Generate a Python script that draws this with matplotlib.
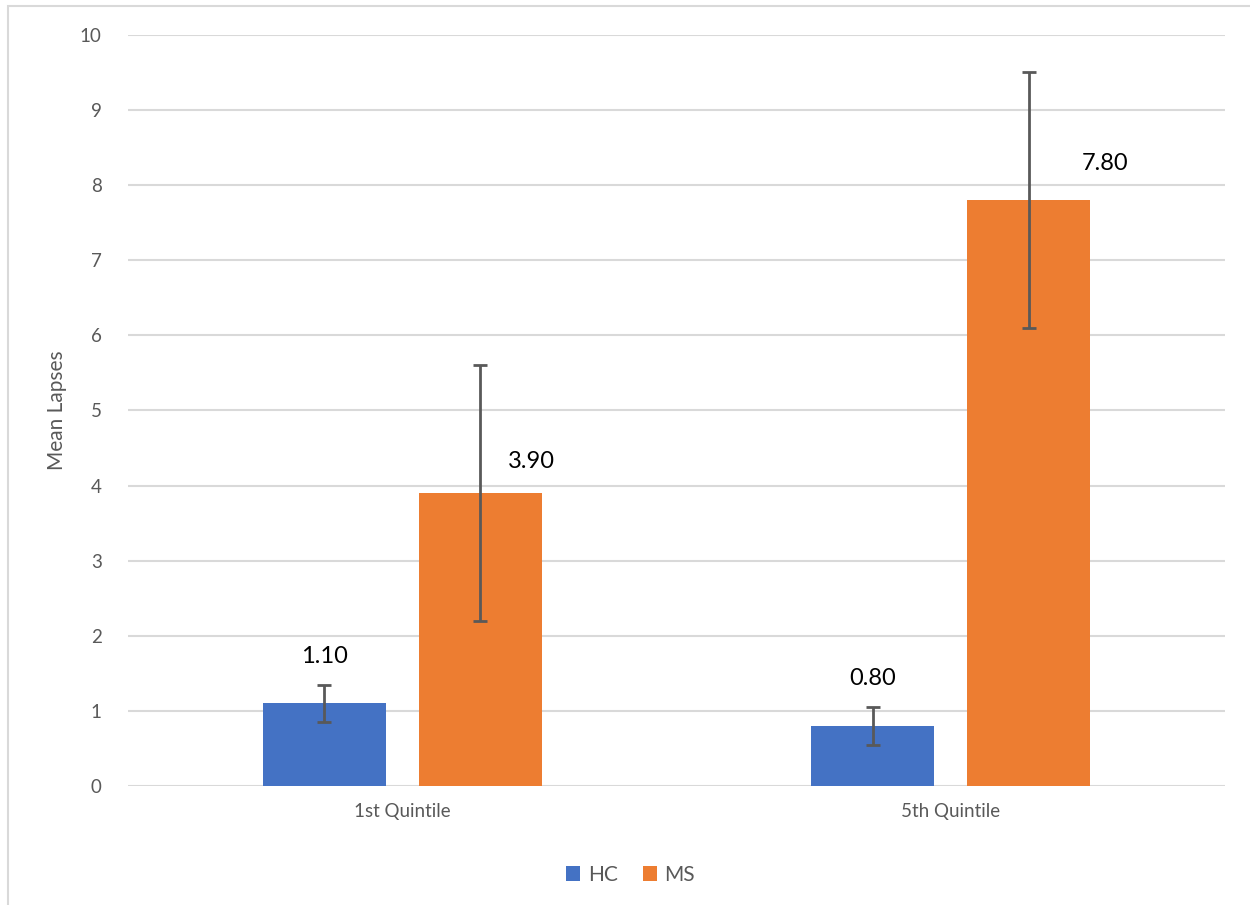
import numpy as np
import matplotlib.pyplot as plt
from matplotlib.patches import Rectangle

categories = ['1st Quintile', '5th Quintile']
hcMeans = [1.10, 0.80]
msMeans = [3.90, 7.80]
hcErr = [0.25, 0.25]
msErr = [1.70, 1.70]

plt.rcParams['font.family'] = ['Lato', 'DejaVu Sans']

fig = plt.figure(figsize=(12.5, 9.05), dpi=100)
ax = fig.add_axes([0.1024, 0.1315, 0.8776, 0.83])

x = np.arange(len(categories))
offset = 0.142
width = 0.224
blue = '#4472C4'
orange = '#ED7D31'
errCol = '#595959'

ax.bar(x - offset, hcMeans, width, color=blue, label='HC', zorder=2)
ax.bar(x + offset, msMeans, width, color=orange, label='MS', zorder=2)
ax.errorbar(x - offset, hcMeans, yerr=hcErr, fmt='none', ecolor=errCol,
            elinewidth=2, capsize=5, capthick=2, zorder=3)
ax.errorbar(x + offset, msMeans, yerr=msErr, fmt='none', ecolor=errCol,
            elinewidth=2, capsize=5, capthick=2, zorder=3)

# value labels, placed roughly where Excel put them
for i in range(len(categories)):
    ax.annotate('%.2f' % hcMeans[i], (x[i] - offset, hcMeans[i] + hcErr[i]),
                xytext=(0, 13), textcoords='offset points', ha='center',
                va='bottom', fontsize=17, color='black')
ax.annotate('%.2f' % msMeans[0], (x[0] + offset, msMeans[0]),
            xytext=(37, 23), textcoords='offset points', ha='center',
            va='center', fontsize=17, color='black')
ax.annotate('%.2f' % msMeans[1], (x[1] + offset, msMeans[1]),
            xytext=(55, 26), textcoords='offset points', ha='center',
            va='center', fontsize=17, color='black')

ax.set_xlim(-0.5, 1.5)
ax.set_ylim(0, 10)
ax.set_yticks(range(0, 11))
ax.set_xticks(x)
ax.set_xticklabels(categories)
ax.tick_params(axis='both', length=0, labelsize=13.5, colors='#595959')
ax.tick_params(axis='y', pad=19)
ax.tick_params(axis='x', pad=12)
ax.grid(axis='y', color='#D9D9D9', linewidth=1.5, zorder=0)
ax.set_axisbelow(True)
for s in ax.spines.values():
    s.set_visible(False)
ax.set_ylabel('Mean Lapses', fontsize=15, color='#595959', labelpad=9)

ax.legend(loc='upper center', bbox_to_anchor=(0.458, -0.08), ncol=2,
          frameon=False, fontsize=15, handlelength=0.7, handleheight=0.7,
          handletextpad=0.35, columnspacing=1.2, labelcolor='#595959')

# chart frame
fig.patches.append(Rectangle((0.006, -0.05), 1.2, 1.043, transform=fig.transFigure,
                             fill=False, edgecolor='#D9D9D9', linewidth=1.5))

fig.savefig('out.png', dpi=100)
